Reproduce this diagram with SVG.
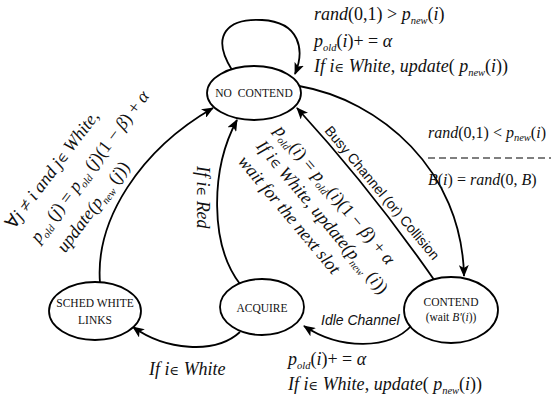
<svg xmlns="http://www.w3.org/2000/svg" width="551" height="400" viewBox="0 0 551 400">
<style>
.node ellipse{fill:#fff;stroke:#000;stroke-width:1.8}
.nt{font-family:"Liberation Serif",serif;font-size:11.5px;text-anchor:middle;fill:#111}
.edge{fill:none;stroke:#000;stroke-width:1.8;marker-end:url(#ah)}
.m{font-family:"Liberation Serif",serif;font-size:18px;fill:#111}
.m2{font-family:"Liberation Serif",serif;font-size:16px;fill:#111}
.m3{font-family:"Liberation Serif",serif;font-size:18px;fill:#111;font-style:italic}
.i{font-style:italic}
.s{font-size:10.5px;font-style:italic}
.e{font-family:"DejaVu Serif",serif;font-size:13px;font-style:normal}
.sans{font-family:"Liberation Sans",Arial,sans-serif;font-size:14px;fill:#111}
</style>
<defs>
<marker id="ah" viewBox="0 0 12 10" refX="11" refY="5" markerWidth="12" markerHeight="10" orient="auto" markerUnits="userSpaceOnUse">
<path d="M0,0 L12,5 L0,10 L3,5 z" fill="#000"/>
</marker>
</defs>
<rect width="551" height="400" fill="#fff"/>

<g id="connectors">
<path class="edge" d="M232,70 C210,35 228,18 262,20 C300,22 305,50 295,74"/>
<path class="edge" d="M299,86 C380,100 462,170 464,276"/>
<path class="edge" d="M437,284 Q372,190 297,108"/>
<path class="edge" d="M100,283 C95,220 140,150 213,108"/>
<path class="edge" d="M240,284 C210,245 210,170 237,120"/>
<path class="edge" d="M412,325 C390,350 340,350 304,326"/>
<path class="edge" d="M240,332 C215,355 165,350 133,327"/>
</g>

<g id="node-no-contend" class="node">
<ellipse cx="254" cy="93" rx="47" ry="27"/>
<text class="nt" x="254" y="97" word-spacing="3" font-size="12">NO CONTEND</text>
</g>
<g id="node-sched" class="node">
<ellipse cx="95" cy="311" rx="46" ry="29"/>
<text class="nt" x="95" y="307">SCHED WHITE</text>
<text class="nt" x="95" y="324">LINKS</text>
</g>
<g id="node-acquire" class="node">
<ellipse cx="262" cy="307" rx="42" ry="28"/>
<text class="nt" x="262" y="312">ACQUIRE</text>
</g>
<g id="node-contend" class="node">
<ellipse cx="451" cy="310" rx="47" ry="33"/>
<text class="nt" x="451" y="306">CONTEND</text>
<text class="nt" x="451" y="321" font-size="10.5">(wait <tspan class="i">B'</tspan>(<tspan class="i">i</tspan>))</text>
</g>

<g id="labels">
<text class="m" x="314" y="20"><tspan class="i">rand</tspan>(0,1) &gt; <tspan class="i">p</tspan><tspan class="s" dy="4">new</tspan><tspan dy="-4">(</tspan><tspan class="i">i</tspan>)</text>
<text class="m" x="314" y="47"><tspan class="i">p</tspan><tspan class="s" dy="4">old</tspan><tspan dy="-4">(</tspan><tspan class="i">i</tspan>)+ = <tspan class="i">α</tspan></text>
<text class="m" x="314" y="72"><tspan class="i">If  i</tspan><tspan class="e">∈</tspan> <tspan class="i">White</tspan>, <tspan class="i">update</tspan>( <tspan class="i">p</tspan><tspan class="s" dy="4">new</tspan><tspan dy="-4">(</tspan><tspan class="i">i</tspan>))</text>

<text class="m2" x="428" y="138"><tspan class="i">rand</tspan>(0,1) &lt; <tspan class="i">p</tspan><tspan class="s" font-size="9.5" dy="3">new</tspan><tspan dy="-3">(</tspan><tspan class="i">i</tspan>)</text>
<line x1="428" y1="158" x2="551" y2="158" stroke="#000" stroke-width="1.2" stroke-dasharray="7,4"/>
<text class="m2" x="428" y="185"><tspan class="i">B</tspan>(<tspan class="i">i</tspan>) = <tspan class="i">rand</tspan>(0, <tspan class="i">B</tspan>)</text>

<text class="m" x="288" y="365"><tspan class="i">p</tspan><tspan class="s" dy="4">old</tspan><tspan dy="-4">(</tspan><tspan class="i">i</tspan>)+ = <tspan class="i">α</tspan></text>
<text class="m" x="288" y="390"><tspan class="i">If  i</tspan><tspan class="e">∈</tspan> <tspan class="i">White</tspan>,  <tspan class="i">update</tspan>( <tspan class="i">p</tspan><tspan class="s" dy="4">new</tspan><tspan dy="-4">(</tspan><tspan class="i">i</tspan>))</text>

<text class="m" x="149" y="375"><tspan class="i">If  i</tspan><tspan class="e">∈</tspan> <tspan class="i">White</tspan></text>

<text class="sans" x="321" y="325" font-style="italic">Idle Channel</text>

<text class="sans" font-size="14.6" transform="translate(324,131) rotate(50)">Busy Channel (or) Collision</text>

<text class="m3" transform="translate(197,166) rotate(90)">If i<tspan class="e">∈</tspan> Red</text>

<g transform="translate(274,131) rotate(50)">
<text class="m3" x="0" y="0">p<tspan class="s" dy="4">old</tspan><tspan dy="-4" font-style="normal">(</tspan>i<tspan font-style="normal">) = </tspan>p<tspan class="s" dy="4">old</tspan><tspan dy="-4" font-style="normal">(</tspan>i<tspan font-style="normal">)(1 − </tspan>β<tspan font-style="normal">) + </tspan>α</text>
<text class="m3" x="0" y="24">If i<tspan class="e">∈</tspan> White,  update(p<tspan class="s" dy="4">new</tspan><tspan dy="-4" font-style="normal"> (</tspan>i<tspan font-style="normal">))</tspan></text>
<text class="m3" x="0" y="48">wait for the next slot</text>
</g>

<g transform="translate(14,230) rotate(-53)">
<text class="m" x="0" y="0" font-style="italic"><tspan font-style="normal">∀</tspan>j ≠ i and j<tspan class="e">∈</tspan> White,</text>
<text class="m" x="4" y="28" font-style="italic">p<tspan class="s" dy="4">old</tspan><tspan dy="-4" font-style="normal"> (</tspan>j<tspan font-style="normal">) = </tspan>p<tspan class="s" dy="4">old</tspan><tspan dy="-4" font-style="normal"> (</tspan>j<tspan font-style="normal">)(1 − </tspan>β<tspan font-style="normal">) + </tspan>α</text>
<text class="m" x="12" y="55" font-style="italic">update(p<tspan class="s" dy="4">new</tspan><tspan dy="-4" font-style="normal"> (</tspan>j<tspan font-style="normal">))</tspan></text>
</g>
</g>
</svg>
